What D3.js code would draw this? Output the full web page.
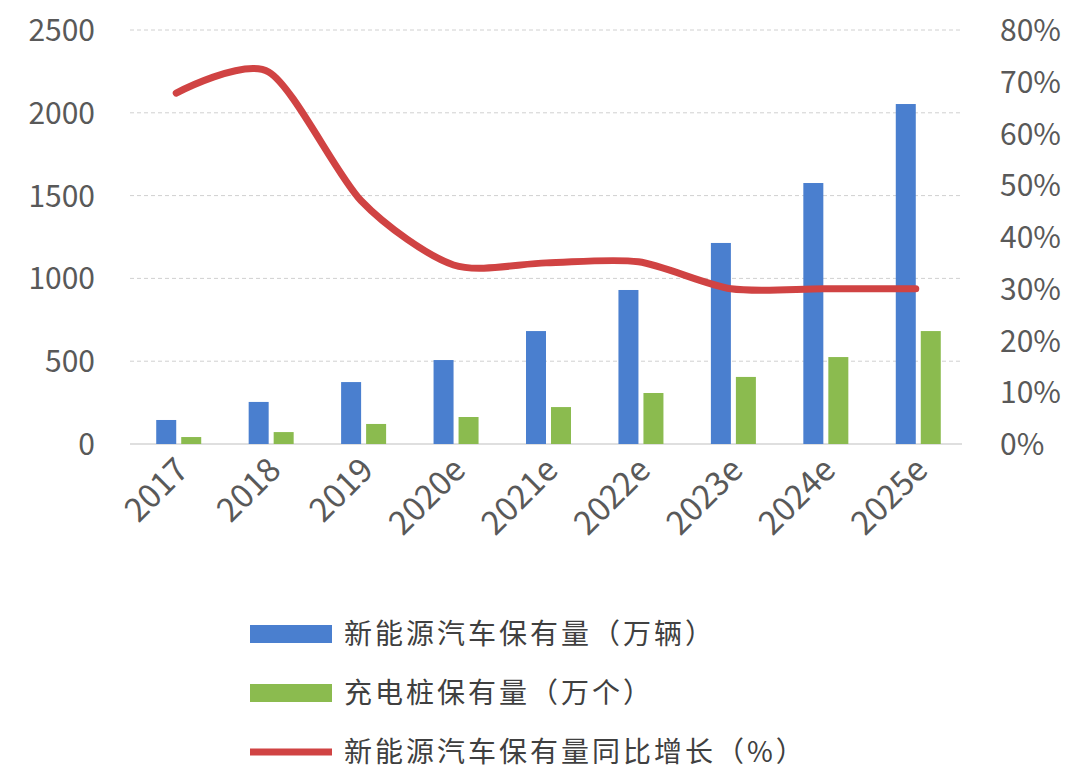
<!DOCTYPE html><html><head><meta charset="utf-8">
<script src="https://cdn.jsdelivr.net/npm/d3@7"></script>
<style>body{margin:0;background:#fff}</style></head><body><svg id="c" width="1078" height="784"></svg>
<script>
const categories=["2017","2018","2019","2020e","2021e","2022e","2023e","2024e","2025e"];
const evStock=[145,254,374,507,682,930,1214,1576,2053];
const chargers=[42,72,121,163,223,308,405,525,682];
const growth=[67.8,71.9,47,34.6,35,35.2,30,30,30];
const leftTicks=[0,500,1000,1500,2000,2500];
const rightTicks=[0,10,20,30,40,50,60,70,80];
const names=["新能源汽车保有量（万辆）","充电桩保有量（万个）","新能源汽车保有量同比增长（%）"];
const colors=["#4a7fcf","#8bbb4f","#d04343"];
const svg=d3.select("#c");
const L=130,R=962,T=30,B=444;
const x=d3.scaleBand().domain(categories).range([L,R]);
const y=d3.scaleLinear().domain([0,2500]).range([B,T]);
const y2=d3.scaleLinear().domain([0,80]).range([B,T]);
const font="'Noto Sans CJK SC','Noto Sans',sans-serif";
svg.selectAll(".g").data(leftTicks.slice(1)).join("line").attr("x1",L).attr("x2",R)
 .attr("y1",d=>y(d)).attr("y2",d=>y(d)).attr("stroke","#d0d0d0").attr("stroke-dasharray","4,3");
svg.append("line").attr("x1",L).attr("x2",R).attr("y1",B).attr("y2",B).attr("stroke","#bfbfbf");
svg.selectAll(".lt").data(leftTicks).join("text").attr("x",95).attr("y",d=>y(d)+11).attr("text-anchor","end")
 .attr("font-size",30).attr("fill","#595959").attr("font-family",font).text(d=>d);
svg.selectAll(".rt").data(rightTicks).join("text").attr("x",1000).attr("y",d=>y2(d)+11)
 .attr("font-size",30).attr("fill","#595959").attr("font-family",font).text(d=>d+"%");
const bw=20;
svg.selectAll(".b1").data(evStock).join("rect").attr("x",(d,i)=>x(categories[i])+x.bandwidth()/2-bw)
 .attr("y",d=>y(d)).attr("width",bw).attr("height",d=>B-y(d)).attr("fill",colors[0]);
svg.selectAll(".b2").data(chargers).join("rect").attr("x",(d,i)=>x(categories[i])+x.bandwidth()/2+5)
 .attr("y",d=>y(d)).attr("width",bw).attr("height",d=>B-y(d)).attr("fill",colors[1]);
const line=d3.line().x((d,i)=>x(categories[i])+x.bandwidth()/2).y(d=>y2(d)).curve(d3.curveCardinal.tension(0.2));
svg.append("path").attr("d",line(growth)).attr("fill","none").attr("stroke",colors[2]).attr("stroke-width",7).attr("stroke-linecap","round");
svg.selectAll(".xl").data(categories).join("text")
 .attr("transform",d=>`translate(${x(d)+x.bandwidth()/2+14},${472}) rotate(-45)`).attr("text-anchor","end")
 .attr("font-size",33).attr("fill","#595959").attr("font-family",font).text(d=>d);
const ly=[634,693,752];
names.forEach((n,i)=>{
 if(i<2) svg.append("rect").attr("x",250).attr("y",ly[i]-9).attr("width",82).attr("height",18).attr("fill",colors[i]);
 else svg.append("line").attr("x1",250).attr("x2",332).attr("y1",ly[i]).attr("y2",ly[i]).attr("stroke",colors[i]).attr("stroke-width",7);
 svg.append("text").attr("x",344).attr("y",ly[i]+10).attr("font-size",28).attr("letter-spacing",3).attr("fill","#404040").attr("font-family",font).text(n);
});
</script></body></html>
